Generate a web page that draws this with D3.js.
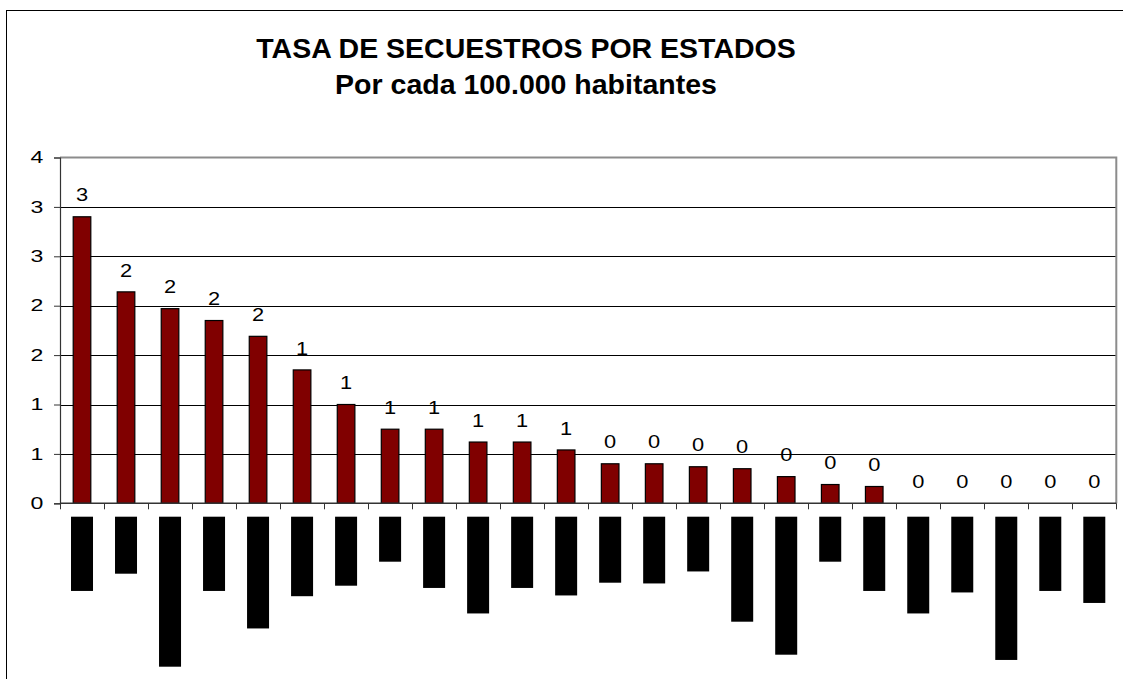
<!DOCTYPE html>
<html>
<head>
<meta charset="utf-8">
<script src="https://cdn.jsdelivr.net/npm/d3@7"></script>
<style>
  body { margin: 0; background: #fff; }
  svg { display: block; font-family: "Liberation Sans", Arial, sans-serif; }
</style>
</head>
<body>
<div class="graphics"></div>
<script>
// Titulo del grafico
var titleLines = ["TASA DE SECUESTROS POR ESTADOS", "Por cada 100.000 habitantes"]

// 24 estados, ordenados de mayor a menor tasa (los nombres salen tapados en negro)
var estados = d3.range(1, 25)
var tasas = [2.90, 2.14, 1.97, 1.85, 1.69, 1.35, 1.00, 0.75, 0.75, 0.62, 0.62, 0.54,
             0.40, 0.40, 0.37, 0.35, 0.27, 0.19, 0.17, 0, 0, 0, 0, 0]
// largo aproximado (en caracteres) de cada etiqueta tapada
var largoEtiqueta = [9.9, 7.6, 20, 9.9, 14.9, 10.6, 9.2, 6.0, 9.5, 12.9, 9.5, 10.5,
                     8.8, 8.9, 7.3, 14, 18.4, 6, 9.9, 12.9, 10.1, 19.1, 9.9, 11.5]
var yTicks = [0, 0.5, 1, 1.5, 2, 2.5, 3, 3.5]

var W = 1123, H = 679
// ojo: "top" es global del navegador, por eso plotTop
var plotLeft = 60, plotRight = 1116.3, plotTop = 157.5, plotBottom = 503.3
// los numeros del original salen mas anchos que altos
var anchoEje = 1.4, anchoValor = 1.18

var svg = d3.select('.graphics')
    .append('svg')
    .attr("width", W)
    .attr("height", H)

// marco exterior
svg.append('rect')
    .attr("x", 6.5).attr("y", 10.5)
    .attr("width", W + 10).attr("height", H + 10)
    .attr("fill", "none").attr("stroke", "#000").attr("stroke-width", 1)

// titulo
svg.append('text')
    .attr("text-anchor", "middle")
    .attr("font-size", 28.5).attr("font-weight", "bold")
    .selectAll('tspan')
    .data(titleLines)
    .enter()
    .append('tspan')
    .attr("x", 526)
    .attr("y", function(d, i){ return 58 + i * 36 })
    .text(function(d){ return d })

// escalas
var x = d3.scaleBand()
    .domain(estados)
    .range([plotLeft, plotRight])
    .paddingInner(0.6)
    .paddingOuter(0.3)

var y = d3.scaleLinear()
    .domain([0, 3.5])
    .range([plotBottom, plotTop])

var largo = d3.scaleLinear()
    .domain([0, 20])
    .range([0, 150])

// lineas de division
svg.selectAll('.grid')
    .data(yTicks.filter(function(d){ return d > 0 && d < 3.5 }))
    .enter()
    .append('line')
    .attr("x1", plotLeft).attr("x2", plotRight)
    .attr("y1", function(d){ return Math.round(y(d)) + 0.5 })
    .attr("y2", function(d){ return Math.round(y(d)) + 0.5 })
    .attr("stroke", "#000").attr("stroke-width", 1)

// borde gris del area de trazado (arriba y derecha)
svg.append('path')
    .attr("d", "M" + plotLeft + "," + plotTop + "H" + plotRight + "V" + plotBottom)
    .attr("fill", "none").attr("stroke", "#8c8c8c").attr("stroke-width", 2)

// barras
svg.selectAll('.bar')
    .data(tasas)
    .enter()
    .append('rect')
    .attr("x", function(d, i){ return x(estados[i]) })
    .attr("y", function(d){ return y(d) })
    .attr("width", x.bandwidth())
    .attr("height", function(d){ return plotBottom - y(d) })
    .attr("fill", "#800000")
    .attr("stroke", function(d){ return d > 0 ? "#000" : "none" })
    .attr("stroke-width", 1.2)

// etiquetas de valor
svg.selectAll('.valor')
    .data(tasas)
    .enter()
    .append('text')
    .attr("transform", "scale(" + anchoValor + ",1)")
    .attr("x", function(d, i){ return (x(estados[i]) + x.bandwidth() / 2) / anchoValor })
    .attr("y", function(d){ return y(d) - 22 })
    .attr("dy", "0.36em")
    .attr("text-anchor", "middle")
    .attr("font-size", 18.5)
    .text(function(d){ return Math.round(d) })

// eje Y
var yAxis = d3.axisLeft(y)
    .tickValues(yTicks)
    .tickSize(6)
    .tickPadding(11)
    .tickFormat(function(d){ return Math.round(d) })

var gy = svg.append('g')
    .attr("transform", "translate(" + plotLeft + ",0)")
    .call(yAxis)
gy.select('.domain').attr("stroke", "#333").attr("stroke-width", 1.2)
gy.selectAll('.tick line').attr("stroke", "#333")
gy.selectAll('text')
    .attr("font-size", 16.5).attr("fill", "#000")
    .attr("transform", "scale(" + anchoEje + ",1)")
    .attr("x", -16.7 / anchoEje)
    .style("font-family", "'Liberation Sans', Arial, sans-serif")

// eje X: solo la linea base y las marcas entre categorias
svg.append('line')
    .attr("x1", plotLeft).attr("x2", plotRight)
    .attr("y1", plotBottom).attr("y2", plotBottom)
    .attr("stroke", "#333").attr("stroke-width", 1.5)

svg.selectAll('.xtick')
    .data(d3.range(estados.length + 1))
    .enter()
    .append('line')
    .attr("x1", function(i){ return Math.round(plotLeft + i * x.step()) + 0.5 })
    .attr("x2", function(i){ return Math.round(plotLeft + i * x.step()) + 0.5 })
    .attr("y1", plotBottom).attr("y2", plotBottom + 6)
    .attr("stroke", "#333")

// etiquetas de estados (tapadas con bloques negros)
svg.selectAll('.etiqueta')
    .data(largoEtiqueta)
    .enter()
    .append('rect')
    .attr("x", function(d, i){ return x(estados[i]) + x.bandwidth() / 2 - 11 })
    .attr("y", 516.7)
    .attr("width", 22)
    .attr("height", function(d){ return largo(d) })
    .attr("fill", "#000")
</script>
</body>
</html>
